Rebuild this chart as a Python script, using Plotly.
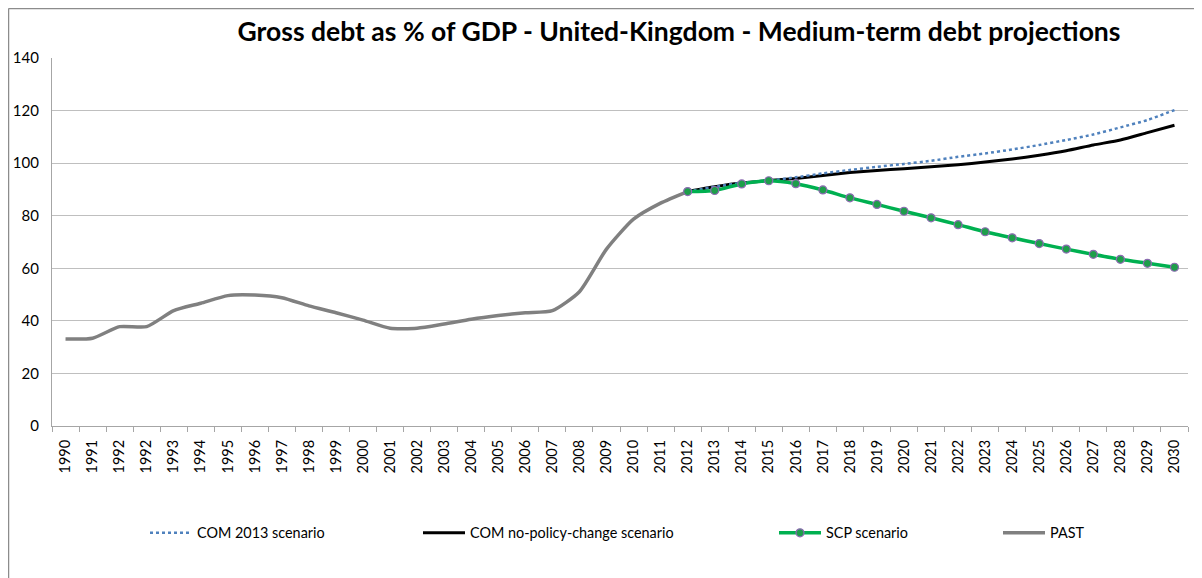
import plotly.graph_objects as go

# ---------------- data ----------------
year_labels = ["1990", "1991", "1992", "1992", "1993", "1994", "1995", "1996", "1997",
               "1998", "1999", "2000", "2001", "2002", "2003", "2004", "2005", "2006",
               "2007", "2008", "2009", "2010", "2011", "2012", "2013", "2014", "2015",
               "2016", "2017", "2018", "2019", "2020", "2021", "2022", "2023", "2024",
               "2025", "2026", "2027", "2028", "2029", "2030"]

past = [33.1, 33.4, 37.8, 37.8, 43.9, 46.7, 49.6, 49.8, 48.8, 45.7, 43.1, 40.3,
        37.2, 37.2, 38.8, 40.6, 42.0, 43.1, 43.9, 51.1, 67.3, 78.7, 84.8, 89.2]

scp_scenario = [89.2, 89.6, 92.1, 93.3, 92.2, 89.8, 86.8, 84.3, 81.7, 79.2, 76.6,
                73.9, 71.6, 69.4, 67.3, 65.3, 63.4, 61.9, 60.4]

com_no_policy_change = [89.2, 91.0, 92.5, 93.4, 94.2, 95.3, 96.4, 97.2, 97.9, 98.6,
                        99.4, 100.4, 101.6, 103.0, 104.7, 106.9, 108.8, 111.6, 114.4]

com_2013 = [89.2, 91.0, 92.5, 93.4, 94.6, 96.1, 97.4, 98.6, 99.7, 100.9, 102.4,
            103.7, 105.2, 106.9, 108.8, 110.9, 113.6, 116.4, 120.2]

y_ticks = [0, 20, 40, 60, 80, 100, 120, 140]

# ---------------- positions ----------------
positions = list(range(len(year_labels)))
past_x = positions[:len(past)]
proj_x = positions[len(year_labels) - len(scp_scenario):]

W, H = 1202, 578
OFF = 8  # page body offset in the screenshot
# plot area in screenshot pixels: x 52..1188, y 58..426
ML, MT = 52 - OFF, 58 - OFF
MR = W - (1188 - OFF)
MB = H - (426 - OFF)
PW, PH = W - ML - MR, H - MT - MB


def sx(px):  # screenshot x -> paper x
    return (px - OFF - ML) / PW


def sy(py):  # screenshot y -> paper y
    return 1 - (py - OFF - MT) / PH


FONT = "Lato"
SMOOTH = 0.6

fig = go.Figure()

fig.add_trace(go.Scatter(
    x=proj_x, y=com_no_policy_change, mode="lines", name="COM no-policy-change scenario",
    line=dict(color="#000000", width=3, shape="spline", smoothing=SMOOTH),
    legend="legend2"))

fig.add_trace(go.Scatter(
    x=proj_x, y=com_2013, mode="lines", name="COM 2013 scenario",
    line=dict(color="#4F81BD", width=2.5, dash="dot", shape="spline", smoothing=SMOOTH),
    legend="legend"))

fig.add_trace(go.Scatter(
    x=past_x, y=past, mode="lines", name="PAST",
    line=dict(color="#808080", width=3.5, shape="spline", smoothing=SMOOTH),
    legend="legend4"))

fig.add_trace(go.Scatter(
    x=proj_x, y=scp_scenario, mode="lines+markers", name="SCP scenario",
    line=dict(color="#00B050", width=3.5, shape="spline", smoothing=SMOOTH),
    marker=dict(size=8, color="#1E9E4A", line=dict(color="#8C6BB1", width=1.2)),
    legend="legend3"))

legend_common = dict(orientation="h", yanchor="middle", xanchor="left",
                     font=dict(family=FONT, size=14.4, color="#000000"),
                     bgcolor="rgba(0,0,0,0)", borderwidth=0, itemwidth=42)
ly = sy(533)

fig.update_layout(
    width=W, height=H,
    margin=dict(l=ML, r=MR, t=MT, b=MB, autoexpand=False),
    showlegend=True,
    paper_bgcolor="white", plot_bgcolor="white",
    font=dict(family=FONT, color="#000000"),
    title=dict(text="<b>Gross debt as % of GDP - United-Kingdom - Medium-term debt projections</b>",
               x=(679 - OFF) / W, xanchor="center", xref="container",
               y=1 - (32 - OFF) / H, yanchor="middle", yref="container",
               font=dict(family=FONT, size=26.5, color="#000000")),
    legend=dict(x=sx(145), y=ly, **legend_common),
    legend2=dict(x=sx(418), y=ly, **legend_common),
    legend3=dict(x=sx(774), y=ly, **legend_common),
    legend4=dict(x=sx(998), y=ly, **legend_common),
    xaxis=dict(
        range=[-0.5, len(year_labels) - 0.5],
        tickmode="array", tickvals=positions, ticktext=year_labels,
        tickangle=-90, ticks="", showgrid=False, ticklabelstandoff=7,
        showline=True, linecolor="#A6A6A6", linewidth=1.2,
        tickfont=dict(family=FONT, size=14.5, color="#000000"),
        minor=dict(tickmode="array",
                   tickvals=[p - 0.5 for p in positions] + [len(year_labels) - 0.5],
                   ticks="outside", ticklen=5, tickcolor="#A6A6A6", tickwidth=1, showgrid=False),
        zeroline=False, fixedrange=True),
    yaxis=dict(
        range=[0, 140], tickmode="array", tickvals=y_ticks,
        showgrid=True, gridcolor="#BFBFBF", gridwidth=1,
        showline=True, linecolor="#A6A6A6", linewidth=1.2,
        ticks="", ticklabelstandoff=9,
        tickfont=dict(family=FONT, size=15, color="#000000"),
        zeroline=False, fixedrange=True),
    shapes=[
        dict(type="line", xref="paper", yref="paper",
             x0=sx(8.5), x1=sx(W + OFF), y0=sy(8.5), y1=sy(8.5),
             line=dict(color="#8C8C8C", width=1.5)),
        dict(type="line", xref="paper", yref="paper",
             x0=sx(8.5), x1=sx(8.5), y0=sy(8.5), y1=sy(H + OFF),
             line=dict(color="#8C8C8C", width=1.5)),
    ],
)

fig.write_html("out.html")
